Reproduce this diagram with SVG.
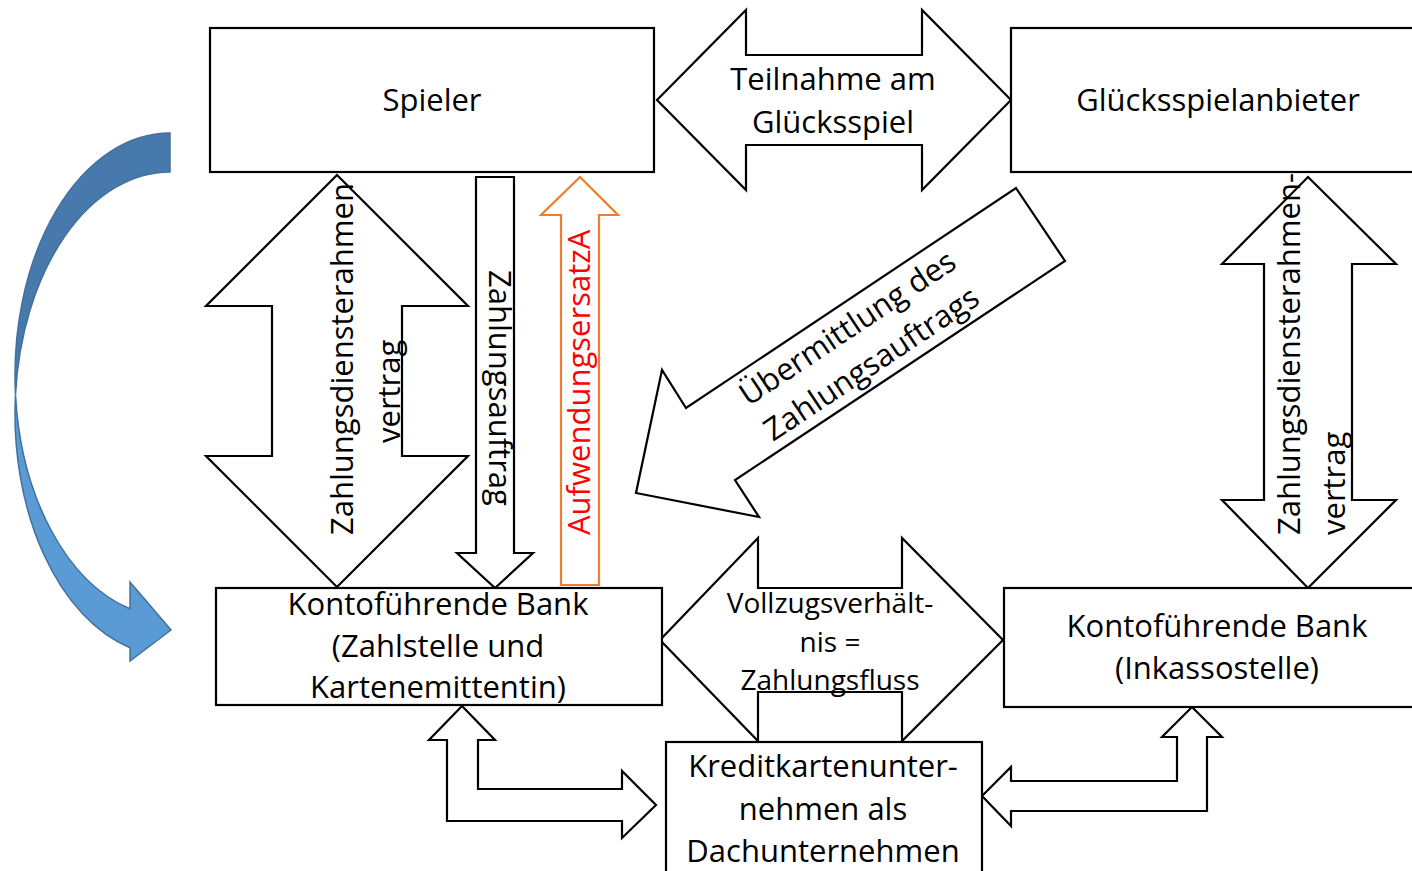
<svg xmlns="http://www.w3.org/2000/svg" width="1412" height="871" viewBox="0 0 1412 871">
<style>
.box{fill:#fff;stroke:#000;stroke-width:2.2}
.arr{fill:#fff;stroke:#000;stroke-width:2.2;stroke-linejoin:miter}
.t{font-family:"Open Sans","DejaVu Sans",sans-serif;font-size:31px;fill:#000}
.m{text-anchor:middle}
</style>
<rect width="1412" height="871" fill="#fff"/>
<g id="connectors">
  <g id="blue-curve">
    <path d="M170,133 A155,242 0 0 0 15.5,394.5 A155,242 0 0 1 170,172 Z" fill="#4779AC" stroke="#41719C" stroke-width="1.5"/>
    <path d="M15.5,394.5 A155,242 0 0 0 130,647.8 L130,661 L171,630 L130,582 L130,608.8 A155,242 0 0 1 15.5,394.5 Z" fill="#5B9BD5" stroke="#41719C" stroke-width="1.5"/>
  </g>
  <g id="teilnahme">
    <polygon class="arr" points="657,100 746,10 746,55 922,55 922,10 1011,100 922,190 922,145 746,145 746,190"/>
    <text class="t m" x="833" y="90">Teilnahme am</text>
    <text class="t m" x="833" y="133">Glücksspiel</text>
  </g>
  <g id="rahmenvertrag-links">
    <polygon class="arr" points="337,175 468,306 402,306 402,456 468,456 337,587 206,456 272,456 272,306 206,306"/>
    <text class="t" transform="translate(353,535) rotate(-90)">Zahlungsdiensterahmen</text>
    <text class="t" transform="translate(400,443) rotate(-90)">vertrag</text>
  </g>
  <g id="zahlungsauftrag">
    <polygon class="arr" points="476,177 514,177 514,553 533,553 495,588 457,553 476,553"/>
    <text class="t" transform="translate(489,270) rotate(90)">Zahlungsauftrag</text>
  </g>
  <g id="aufwendungsersatz">
    <polygon points="580,177 618,215 599,215 599,585 561,585 561,215 541,215" fill="#fff" stroke="#ED7D31" stroke-width="2.2"/>
    <text class="t" style="fill:#FF0000" transform="translate(590,535) rotate(-90)">AufwendungsersatzA</text>
  </g>
  <g id="uebermittlung">
    <polygon class="arr" points="1016,188 1065,261 735,480 759,517 636,493 662,370 686,408"/>
    <g transform="translate(859,345) rotate(-33.7)">
      <text class="t m" x="0" y="-10">Übermittlung des</text>
      <text class="t m" x="0" y="33">Zahlungsauftrags</text>
    </g>
  </g>
  <g id="rahmenvertrag-rechts">
    <polygon class="arr" points="1308,177 1396,264 1352,264 1352,500 1396,500 1308,588 1222,500 1264,500 1264,264 1222,264"/>
    <text class="t" transform="translate(1300,535) rotate(-90)">Zahlungsdiensterahmen-</text>
    <text class="t" transform="translate(1345,535) rotate(-90)">vertrag</text>
  </g>
  <g id="vollzug">
    <polygon class="arr" points="660,640 758,538 758,588 902,588 902,538 1003,640 902,741 902,692 758,692 758,741"/>
  </g>
  <g id="bent-left">
    <polygon class="arr" points="462,706 495,740 478,740 478,789 622,789 622,771 656,805 622,838 622,821 447,821 447,740 429,740"/>
  </g>
  <g id="bent-right">
    <polygon class="arr" points="1192,707 1222,737 1207,737 1207,811 1011,811 1011,826 982,796 1011,767 1011,781 1177,781 1177,737 1162,737"/>
  </g>
</g>
<g id="spieler">
  <rect class="box" x="210" y="28" width="444" height="144"/>
  <text class="t m" x="432" y="111">Spieler</text>
</g>
<g id="anbieter">
  <rect class="box" x="1011" y="28" width="420" height="144"/>
  <text class="t m" x="1218" y="111">Glücksspielanbieter</text>
</g>
<g id="bank-zahlstelle">
  <rect class="box" x="216" y="588" width="446" height="117"/>
  <text class="t m" x="438" y="615">Kontoführende Bank</text>
  <text class="t m" x="438" y="657">(Zahlstelle und</text>
  <text class="t m" x="438" y="698">Kartenemittentin)</text>
</g>
<g id="bank-inkasso">
  <rect class="box" x="1004" y="588" width="420" height="119"/>
  <text class="t m" x="1217" y="637">Kontoführende Bank</text>
  <text class="t m" x="1217" y="679">(Inkassostelle)</text>
</g>
<g id="kreditkarten">
  <rect class="box" x="666" y="742" width="316" height="140"/>
  <text class="t m" x="823" y="777">Kreditkartenunter-</text>
  <text class="t m" x="823" y="820">nehmen als</text>
  <text class="t m" x="823" y="862">Dachunternehmen</text>
</g>
<g id="vollzug-label">
  <text class="t m" style="font-size:28px" x="830" y="613">Vollzugsverhält-</text>
  <text class="t m" style="font-size:28px" x="830" y="652">nis =</text>
  <text class="t m" style="font-size:28px" x="830" y="690">Zahlungsfluss</text>
</g>
</svg>
